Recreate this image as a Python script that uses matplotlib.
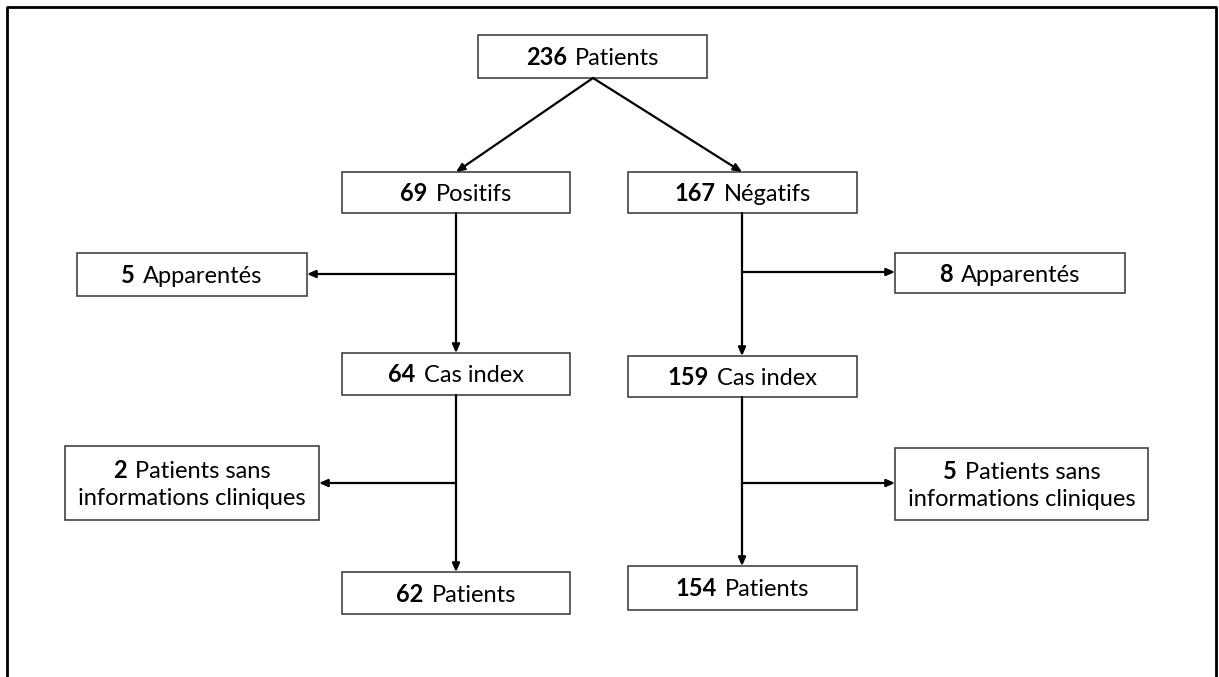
import matplotlib
matplotlib.use('Agg')
import matplotlib.pyplot as plt
from matplotlib.patches import Rectangle
from matplotlib.offsetbox import TextArea, HPacker, VPacker, AnnotationBbox

# ---- DATA ----
counts = [236, 69, 167, 5, 64, 8, 159, 2, 62, 5, 154]
labels = ['Patients', 'Positifs', 'Négatifs', 'Apparentés', 'Cas index',
          'Apparentés', 'Cas index', 'Patients sans\ninformations cliniques',
          'Patients', 'Patients sans\ninformations cliniques', 'Patients']

# ---- LAYOUT (pixels, y down) ----
boxes = [
    (478, 35, 707, 78),
    (342, 172, 570, 213),
    (628, 172, 857, 213),
    (77, 253, 307, 296),
    (342, 353, 570, 395),
    (895, 253, 1125, 293),
    (628, 356, 857, 397),
    (65, 446, 319, 520),
    (342, 572, 570, 614),
    (895, 448, 1148, 520),
    (628, 566, 857, 610),
]
arrows = [
    ((593, 78), (456, 172)),
    ((593, 78), (742, 172)),
    ((456, 213), (456, 353)),
    ((456, 274), (307, 274)),
    ((742, 213), (742, 356)),
    ((742, 272), (895, 272)),
    ((456, 395), (456, 572)),
    ((456, 483), (319, 483)),
    ((742, 397), (742, 566)),
    ((742, 483), (895, 483)),
]

W, H = 1219, 677
FONT = 'Lato'
FS = 17

fig = plt.figure(figsize=(W / 100, H / 100), dpi=100)
ax = fig.add_axes([0, 0, 1, 1])
ax.set_xlim(0, W)
ax.set_ylim(H, 0)
ax.axis('off')

# outer frame (bottom edge is cut off in the picture)
ax.plot([7, 7, 1216, 1216], [H + 5, 7, 7, H + 5], color='black', lw=2)

for (x0, y0, x1, y1) in boxes:
    ax.add_patch(Rectangle((x0, y0), x1 - x0, y1 - y0, fill=False,
                           edgecolor='#333333', lw=1.1))

for start, end in arrows:
    ax.annotate('', xy=end, xytext=start,
                arrowprops=dict(arrowstyle='-|>,head_length=0.5,head_width=0.22',
                                color='black', lw=1.6, shrinkA=0, shrinkB=0))

for n, lab, (x0, y0, x1, y1) in zip(counts, labels, boxes):
    lines = lab.split('\n')
    first = HPacker(children=[
        TextArea(str(n), textprops=dict(weight='bold', fontsize=FS, family=FONT)),
        TextArea(lines[0], textprops=dict(fontsize=FS, family=FONT)),
    ], sep=6, pad=0, align='baseline')
    rows = [first] + [TextArea(l, textprops=dict(fontsize=FS, family=FONT)) for l in lines[1:]]
    pack = VPacker(children=rows, sep=4, pad=0, align='center')
    ab = AnnotationBbox(pack, ((x0 + x1) / 2, (y0 + y1) / 2 + 1), frameon=False,
                        box_alignment=(0.5, 0.5), pad=0)
    ax.add_artist(ab)

fig.savefig('out.png', dpi=100)
